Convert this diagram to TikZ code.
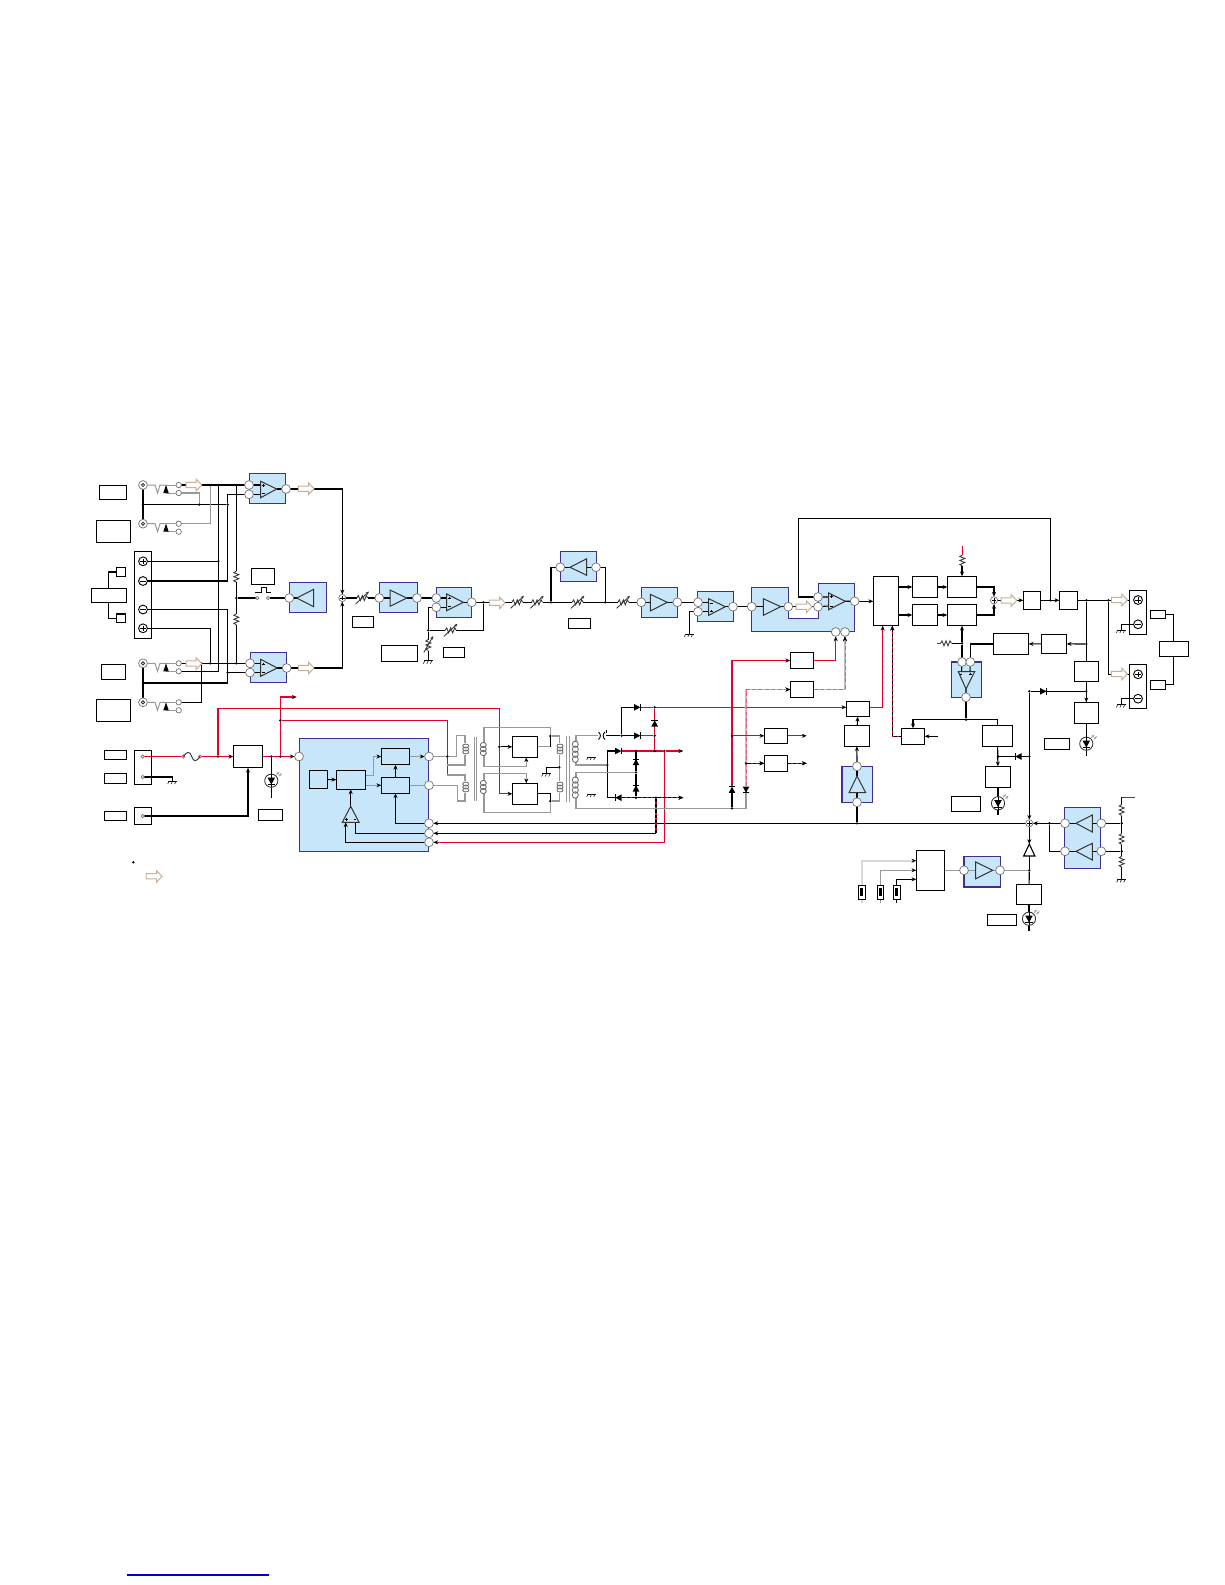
\documentclass[tikz,border=0pt]{standalone}
\usetikzlibrary{arrows.meta}
\pgfdeclarelayer{bgl}\pgfdeclarelayer{wirel}\pgfsetlayers{bgl,wirel,main}
\definecolor{bluef}{HTML}{C8E6FA}
\definecolor{bluee}{HTML}{3F2F90}
\definecolor{redw}{HTML}{E2002D}
\definecolor{grayw}{HTML}{999999}
\definecolor{lgray}{HTML}{D8D8D8}
\definecolor{pinke}{HTML}{D9C4C8}
\definecolor{tanw}{HTML}{C9AF97}
\definecolor{symb}{HTML}{333333}
\tikzset{
 boxn/.style={rectangle,draw=black,line width=.62pt,fill=white,inner sep=0,outer sep=0},
 openn/.style={rectangle,draw=black,line width=.62pt,inner sep=0,outer sep=0},
 bluen/.style={rectangle,draw=bluee,line width=.7pt,fill=bluef,inner sep=0,outer sep=0},
 pinn/.style={circle,draw=black!55,line width=.35pt,fill=white,inner sep=0,outer sep=0,minimum size=4.4pt},
 midn/.style={pinn,minimum size=2.7pt},
 smln/.style={pinn,minimum size=1.7pt},
 dotn/.style={circle,fill=black,inner sep=0,outer sep=0,minimum size=1.3pt},
 w/.style={draw=black,line width=.56pt},
 wr/.style={draw=redw,line width=.56pt},
 wg/.style={draw=grayw,line width=.56pt},
 wl/.style={draw=lgray,line width=.9pt},
 rd/.style={draw=redw!65!white,line width=.5pt,dash pattern=on 2pt off 1.2pt,preaction={draw=pinke!70!grayw,solid,line width=.85pt}},
 bd/.style={draw=black,line width=.56pt,dash pattern=on 1.6pt off 1pt,preaction={draw=redw,solid,line width=.56pt}},
 ar/.style={-{Stealth[length=2.4pt,width=2pt,color=black]}},
 ra/.style={{Stealth[length=2.4pt,width=2pt,color=black]}-},
 sym/.style={draw=symb,line width=.42pt},
 amp/.style={draw=symb,line width=.5pt},
}
\newcommand\mybox[5]{\pgfmathsetmacro\zzw{(#4-#2)*0.5}\pgfmathsetmacro\zzh{(#5-#3)*0.5}\node[boxn,minimum width=\zzw pt,minimum height=\zzh pt] (#1) at ({(#2+#4)/2},{(#3+#5)/2}) {};}
\newcommand\myopen[5]{\pgfmathsetmacro\zzw{(#4-#2)*0.5}\pgfmathsetmacro\zzh{(#5-#3)*0.5}\node[openn,minimum width=\zzw pt,minimum height=\zzh pt] (#1) at ({(#2+#4)/2},{(#3+#5)/2}) {};}
\newcommand\myblue[5]{\pgfmathsetmacro\zzw{(#4-#2)*0.5}\pgfmathsetmacro\zzh{(#5-#3)*0.5}\begin{pgfonlayer}{bgl}\node[bluen,minimum width=\zzw pt,minimum height=\zzh pt] (#1) at ({(#2+#4)/2},{(#3+#5)/2}) {};\end{pgfonlayer}}
\newcommand\mypin[3]{\node[pinn] (#1) at (#2,#3) {};}
\newcommand\mymid[3]{\node[midn] (#1) at (#2,#3) {};}
\newcommand\mysml[3]{\node[smln] (#1) at (#2,#3) {};}
\newcommand\mydot[3]{\node[dotn] (#1) at (#2,#3) {};}
\newcommand\zjack[3]{\node[pinn] (#1) at (#2,#3) {};\draw[sym] (#2,#3) circle[radius=1.6];}
\newcommand\zterm[3]{\node[pinn,draw=black,line width=.45pt] (#1) at (#2,#3) {};\draw[black,line width=.45pt] (#2-2.8,#3)--(#2+2.8,#3) (#2,#3-2.8)--(#2,#3+2.8);}
\newcommand\ztermm[3]{\node[pinn,draw=black,line width=.45pt] (#1) at (#2,#3) {};\draw[black,line width=.45pt] (#2-2.8,#3)--(#2+2.8,#3);}
\newcommand\zsum[3]{\node[pinn,minimum size=3.6pt] (#1) at (#2,#3) {};\draw[black,line width=.4pt] (#2-2.2,#3)--(#2+2.2,#3) (#2,#3-2.2)--(#2,#3+2.2);}
\newcommand\zamp[6]{\draw[amp] (#1,#2)--(#3,#4)--(#5,#6)--cycle;}
\newcommand\zpl[2]{\draw[black,line width=.35pt] (#1-1.4,#2)--(#1+1.4,#2) (#1,#2-1.4)--(#1,#2+1.4);}
\newcommand\zmn[2]{\draw[black,line width=.35pt] (#1-1.4,#2)--(#1+1.4,#2);}
\newcommand\zres[2]{\begin{scope}[shift={(#1,#2)}]\fill[white] (-5.5,-2)rectangle(5.5,2);\draw[sym] (-5.5,0)--(-4,-2.5)--(-2,2.5)--(0,-2.5)--(2,2.5)--(4,-2.5)--(5.5,0);\end{scope}}
\newcommand\zvres[2]{\begin{scope}[shift={(#1,#2)}]\fill[white] (-2,-5.5)rectangle(2,5.5);\draw[sym] (0,-5.5)--(-2.5,-4)--(2.5,-2)--(-2.5,0)--(2.5,2)--(-2.5,4)--(0,5.5);\end{scope}}
\newcommand\zsres[2]{\zres{#1}{#2}\begin{scope}[shift={(#1,#2)}]\draw[sym,-{Stealth[length=1.8pt,width=1.5pt]}] (-6.7,6)--(6.7,-6.5);\end{scope}}
\newcommand\zvsres[2]{\zvres{#1}{#2}\begin{scope}[shift={(#1,#2)}]\draw[sym,-{Stealth[length=1.8pt,width=1.5pt]}] (-4.5,7.5)--(5,-9);\end{scope}}
\newcommand\zgnd[2]{\begin{scope}[shift={(#1,#2)}]\draw[black,line width=.5pt] (-4.5,0)--(4.5,0);\draw[symb,line width=.35pt] (-3.5,0)--(-5,3) (0,0)--(-1.5,3) (3.5,0)--(2,3);\end{scope}}
\newcommand\zled[2]{\begin{scope}[shift={(#1,#2)}]\draw[sym,fill=white] (0,0) circle[radius=6.6];\draw[black,line width=.5pt] (0,-6.6)--(0,6.6) (-3.8,3.8)--(3.8,3.8);\fill[black] (-3.8,-3.2)--(3.8,-3.2)--(0,3.8)--cycle;\draw[grayw,line width=.35pt,-{Stealth[length=1.5pt,width=1.2pt]}] (5,-6)--(8,-9);\draw[grayw,line width=.35pt,-{Stealth[length=1.5pt,width=1.2pt]}] (7.5,-4.5)--(10.5,-7.5);\end{scope}}
\newcommand\zdiode[3]{\begin{scope}[shift={(#1,#2)},rotate=#3]\fill[black] (-3.2,-3.3)--(3,0)--(-3.2,3.3)--cycle;\draw[black,line width=.5pt] (3,-3.3)--(3,3.3);\end{scope}}
\newcommand\zcoil[4]{\begin{scope}[shift={(#1,#2)}]\foreach \zk in {1,...,#3}{\draw[draw=grayw!70!black,line width=.42pt] (0,{(\zk-(#3+1)/2)*#4}) ellipse[x radius=3,y radius={#4*.65}];}\end{scope}}
\newcommand\zharrow[3]{\begin{scope}[shift={(#1,#3)}]\draw[tanw,line width=.5pt,fill=white] (0,-2.6)--({#2-#1-5.5},-2.6)--({#2-#1-5.5},-5.8)--({#2-#1},0)--({#2-#1-5.5},5.8)--({#2-#1-5.5},2.6)--(0,2.6)--cycle;\end{scope}}
\newcommand\zfuse[1]{\begin{scope}[shift={(#1,892)}]\draw[black,line width=.4pt,fill=white] (-3.2,-7)rectangle(3.2,7);\fill[black] (-1.5,-4)rectangle(1.5,4);\end{scope}}
\begin{document}
\begin{tikzpicture}[x=0.5pt,y=-0.5pt]
\begin{pgfonlayer}{bgl}
\path[use as bounding box,fill=white] (0,0) rectangle (1225,1585);
\draw[bluee,line width=.7pt,fill=bluef] (751.3,587.3)--(788.3,587.3)--(788.3,618.3)--(818.3,618.3)--(818.3,583.3)--(854.3,583.3)--(854.3,631.3)--(751.3,631.3)--cycle;
\end{pgfonlayer}
% blue blocks
\myblue{bA}{249.3}{473.7}{285.7}{503.7}
\myblue{bB}{250.3}{652.7}{286.7}{682.7}
\myblue{bC}{289.3}{582.7}{326.3}{612.7}
\myblue{bD}{379.3}{582.3}{417.3}{612.3}
\myblue{bE}{436.3}{587.7}{471.7}{617.7}
\myblue{bF}{560.3}{551.3}{596.3}{581.3}
\myblue{bG}{641.7}{587.3}{677.7}{617.3}
\myblue{bH}{697.7}{591.3}{733.3}{621.7}
\myblue{bI}{951.3}{662}{981.7}{697.7}
\myblue{bJ}{842}{766.7}{872.3}{802.7}
\myblue{bK}{299.3}{738.3}{428.7}{851.7}
\myblue{bL}{964}{856.7}{1000.3}{887}
\myblue{bM}{1064.7}{807.7}{1100.7}{868.7}
% label boxes
\mybox{la}{99.3}{485.3}{126.7}{499.3}
\mybox{lb}{96.3}{520.3}{130.7}{542.3}
\mybox{lc}{101.3}{664.3}{125.7}{679.7}
\mybox{ld}{96.3}{699.3}{130.7}{721.7}
\mybox{spk}{91.3}{588.3}{126.7}{602.7}
\mybox{spa}{116.3}{567.3}{125.7}{576.7}
\mybox{spb}{116.3}{614}{125.7}{622.7}
\myopen{tba}{134.3}{551.3}{151.7}{638.3}
\mybox{swb}{251.3}{568.3}{274.7}{584.7}
\mybox{lg}{352.3}{616.3}{373.7}{627.7}
\mybox{lh}{381.3}{645.3}{417.3}{661.7}
\mybox{li}{443.3}{647.3}{464.7}{657.7}
\mybox{lj}{568.3}{618.3}{590.7}{628.7}
\mybox{bigb}{873.3}{576.3}{898.3}{625.7}
\mybox{fa}{912.3}{576.3}{937.7}{597.7}
\mybox{fb}{912.3}{604.3}{937.7}{625.7}
\mybox{ga}{947.3}{576.3}{976.7}{597.7}
\mybox{gb}{947.3}{604.3}{976.7}{625.7}
\mybox{ka}{1023.3}{591.3}{1040.7}{609.3}
\mybox{kb}{1059.3}{591.3}{1077.7}{609.3}
\mybox{hb}{993.3}{633.3}{1028.7}{654.7}
\mybox{ib}{1041.3}{634.3}{1066.7}{653.3}
\mybox{na}{1074.3}{661.3}{1098.3}{681.7}
\mybox{nb}{1074.3}{702.3}{1098.3}{723.3}
\mybox{lk}{1044.3}{738.3}{1069.7}{749.7}
\myopen{tbb}{1129.3}{590.3}{1146.7}{634.7}
\myopen{tbc}{1129.3}{664.3}{1146.7}{708.3}
\mybox{sa}{1150.7}{610.7}{1165.3}{618.3}
\mybox{sb}{1150.7}{680.3}{1165.3}{689.3}
\mybox{sc}{1159.3}{641.3}{1188.3}{656.3}
\mybox{ca}{790.3}{652.3}{813.7}{668.7}
\mybox{cb}{790.3}{681.3}{813.7}{697.7}
\mybox{da}{764.3}{728.3}{787.7}{743.3}
\mybox{db}{764.3}{755.3}{787.7}{771.3}
\mybox{tt}{846.3}{701.3}{869.7}{716.7}
\mybox{ma}{844.3}{725.3}{869.3}{746.3}
\mybox{mb}{901.3}{728.3}{924.7}{744.3}
\mybox{mc}{982.3}{725.3}{1012.7}{746.3}
\mybox{md}{985.3}{766.3}{1010.7}{787.7}
\mybox{ll}{951.3}{796.3}{980.7}{811.7}
\mybox{pla}{104.3}{750.3}{126.7}{759.7}
\mybox{plb}{104.3}{773.3}{126.7}{783.7}
\mybox{plc}{104.3}{811.3}{126.7}{820.7}
\myopen{pba}{134.3}{750.3}{151.7}{784.7}
\myopen{pbb}{134.3}{807.3}{151.7}{824.7}
\mybox{pw}{233.3}{745.3}{262.7}{767.7}
\mybox{lm}{258.3}{809.3}{282.7}{820.7}
\myopen{ia}{309.3}{770.3}{327.7}{788.7}
\myopen{ic}{336.3}{770.3}{365.7}{789.3}
\myopen{id}{381.3}{748.3}{409.7}{764.7}
\myopen{ie}{381.3}{777.3}{409.7}{793.3}
\mybox{ka1}{512.3}{736.3}{537.7}{757.3}
\mybox{ka2}{512.3}{783.3}{537.7}{804.3}
\mybox{qb}{916.3}{850.3}{944.7}{890.3}
\mybox{ra}{1016.3}{884.3}{1041.7}{904.7}
\mybox{ln}{987.3}{914.3}{1016.7}{925.3}
% jacks, terminals
\zjack{ja}{143}{485}
\zjack{jb}{143}{523.7}
\zjack{jc}{143}{663.3}
\zjack{jd}{143}{702.3}
\zterm{tpa}{143}{561.3}
\ztermm{tma}{143}{581}
\ztermm{tmb}{143}{609.5}
\zterm{tpb}{143}{628.3}
\zterm{tpc}{1138}{600}
\ztermm{tmc}{1138}{624.3}
\zterm{tpd}{1138}{674.3}
\ztermm{tmd}{1138}{698.7}
\mymid{cau}{178.7}{485}
\mymid{cal}{178.7}{493}
\mymid{cbu}{178.7}{523.7}
\mymid{cbl}{178.7}{531.7}
\mymid{ccu}{178.7}{663.3}
\mymid{ccl}{178.7}{671.3}
\mymid{cdu}{178.7}{702.3}
\mymid{cdl}{178.7}{710.3}
% pins
\mypin{pa1}{249}{485}
\mypin{pa2}{249}{494.3}
\mypin{pao}{286}{489}
\mypin{pb1}{250}{663.3}
\mypin{pb2}{250}{672.5}
\mypin{pbo}{286.7}{668}
\mypin{pc}{289.3}{598}
\mysml{sw1}{257.3}{598}
\mysml{sw2}{268}{598}
\zsum{sma}{342.3}{598}
\mypin{pd1}{379.3}{598}
\mypin{pdo}{417}{598}
\mypin{pe1}{436.3}{598}
\mypin{pe2}{436.3}{607.3}
\mypin{peo}{471.7}{602.3}
\mypin{pf1}{560.3}{567.3}
\mypin{pfo}{596}{567.3}
\mypin{pg1}{641.3}{602.3}
\mypin{pgo}{677.3}{602.3}
\mypin{ph1}{698}{602.3}
\mypin{ph2}{698}{611.7}
\mypin{pho}{733}{606.7}
\mypin{pi1}{751.7}{606.7}
\mypin{pi2}{788.3}{606.7}
\mypin{pj1}{818}{597}
\mypin{pj2}{818}{606.7}
\mypin{pjo}{854.7}{601.3}
\mypin{pk1}{835.7}{632}
\mypin{pk2}{845}{632}
\zsum{smb}{994}{600.3}
\mypin{pq1}{962}{662}
\mypin{pq2}{970.3}{662}
\mypin{pqo}{966}{697.3}
\mypin{pj3}{857}{766.3}
\mypin{pj4}{857}{802.3}
\mysml{qa}{142.7}{756.5}
\mysml{qc}{142.7}{777}
\mysml{qd}{142.7}{816}
\mysml{fu1}{183.3}{756.5}
\mysml{fu2}{200}{756.5}
\mypin{kin}{299}{756.5}
\mypin{kh1}{429}{756.5}
\mypin{kh2}{429}{785.3}
\mypin{kl1}{429}{823.3}
\mypin{kl2}{429}{833.3}
\mypin{kl3}{429}{842.3}
\mypin{pl1}{964}{870.3}
\mypin{pl2}{1000}{870.3}
\zsum{smc}{1029.3}{823.3}
\mypin{pm1}{1065}{823.3}
\mypin{pm2}{1101.3}{823.3}
\mypin{pm3}{1065}{851.3}
\mypin{pm4}{1101.3}{851.3}
% dots
\mydot{d1}{143}{504.5}
\mydot{d2}{227.7}{504.5}
\mydot{d3}{143}{683}
\mydot{a1}{210.3}{485}
\mydot{a2}{218.3}{485}
\mydot{a3}{236.3}{485}
\mydot{a4}{199.3}{504.5}
\mydot{a5}{201.3}{663.3}
\mydot{a6}{210.3}{663.3}
\mydot{a7}{236.3}{663.3}
\mydot{a8}{218.3}{561.3}
\mydot{a9}{227.7}{672.5}
\mydot{am}{236.3}{598}
\mydot{e1}{428.3}{630.3}
\mydot{e2}{483.3}{602.3}
\mydot{e3}{551}{602.3}
\mydot{e4}{605.3}{602.3}
\mydot{g1}{962}{643.3}
\mydot{g2}{1086.3}{644}
\mydot{g3}{1050.3}{600.3}
\mydot{g4}{1086.3}{600.3}
\mydot{g5}{1108.3}{600.3}
\mydot{g6}{1086.3}{691.3}
\mydot{g7}{1029.3}{691.3}
\mydot{g8}{1029.3}{756.5}
\mydot{g9}{998}{756.5}
\mydot{g10}{966}{719.7}
\mydot{h1}{857}{823.3}
\mydot{h2}{1029.3}{870.3}
\mydot{h3}{1049.3}{823.3}
\mydot{h4}{1121.7}{823.3}
\mydot{h5}{1121.7}{851.3}
\mydot{r1}{218}{756.5}
\mydot{r2}{271.3}{756.5}
\mydot{r3}{280.3}{756.5}
\mydot{r4}{280.3}{720.3}
\mydot{r5}{447.3}{756.5}
\mydot{r6}{499.3}{746.8}
\mydot{t1}{550.3}{736}
\mydot{t2}{559.3}{767.3}
\mydot{t3}{550.3}{801}
\mydot{v1}{621.7}{735.7}
\mydot{v2}{654.7}{707.3}
\mydot{v3}{654.7}{735.7}
\mydot{v4}{654.7}{751}
\mydot{v5}{607.3}{765}
\mydot{v6}{636}{751}
\mydot{v7}{636}{797.7}
\mydot{v8}{636}{772.3}
\mydot{v9}{732}{808.3}
\mydot{w1}{664.3}{751}
\mydot{w2}{656}{797.7}
\mydot{x1}{732}{735.8}
\mydot{x2}{746}{763.3}
% free ends
\coordinate (fr1) at (962.3,546);
\coordinate (fr2) at (962.3,555);
\coordinate (fr3) at (962,566);
\coordinate (fr4) at (936.7,643.3);
\coordinate (fr5) at (940.5,643.3);
\coordinate (fr6) at (952,643.3);
\coordinate (fg1) at (172.7,781);
\coordinate (fg2) at (428.3,660.7);
\coordinate (fg3) at (689.3,634);
\coordinate (fg4) at (1121.3,630);
\coordinate (fg5) at (1121.3,704.5);
\coordinate (fg6) at (546.7,773.5);
\coordinate (fg7) at (591.7,757);
\coordinate (fg8) at (591.7,794);
\coordinate (fg9) at (1121.7,879.3);
\coordinate (bs1) at (882.7,625.7);
\coordinate (bs2) at (892.3,625.7);
\coordinate (oa) at (296.7,697);
\coordinate (ob) at (683.3,751);
\coordinate (oc) at (683.3,797.7);
\coordinate (od) at (806.7,735.8);
\coordinate (oe) at (806.7,763.3);
\coordinate (of) at (938.3,736.3);
\coordinate (ld1) at (271.3,797.7);
\coordinate (ld2) at (1086.3,756);
\coordinate (ld3) at (998,815);
\coordinate (ld4) at (1029,930.7);
\coordinate (tb) at (1029.3,856);
\coordinate (tt2) at (1029.3,844);
\coordinate (rt) at (1135,797.3);
\coordinate (dA) at (732,793);
\coordinate (dB) at (732,786);
\coordinate (dC) at (746,793);
\coordinate (dD) at (746,786);
\coordinate (in1) at (861.7,903.3);
\coordinate (in2) at (880.3,903.3);
\coordinate (in3) at (896.7,903.3);
% wires
\begin{pgfonlayer}{wirel}
\draw[w] (ja)--(jb);
\draw[w] (d1)--(d2);
\draw[w] (jc)--(jd);
\draw[wg] (cal)--(199.3,493)--(a4);
\draw[wg] (cbu)-|(a1);
\draw[w] (cau)--(pa1);
\draw[w] (a2)|-(ccl);
\draw[w] (tpa)--(a8);
\draw[w] (pa2)-|(d2);
\draw[w] (d2)|-(tma);
\draw[w] (tmb)-|(227.7,683)--(d3);
\draw[w] (pb2)--(a9);
\draw[w] (tpb)-|(a6);
\draw[w] (ccu)--(pb1);
\draw[w] (cdu)-|(a5);
\draw[w] (a3)--(am);
\draw[w] (am)--(a7);
\draw[w] (am)--(sw1);
\draw[w] (sw2)--(pc);
\draw[w] (pc)--(296.7,598);
\draw[w] (pa1)--(260.7,485) (pa2)--(260.7,494.3) (276.7,489)--(pao);
\draw[w] (pb1)--(260.7,663.3) (pb2)--(260.7,672.5) (277.3,668)--(pbo);
\draw[w,ar] (pao)-|(sma);
\draw[w,ar] (pbo)-|(sma);
\draw[w] (sma)--(pd1);
\draw[w] (pd1)--(390,598) (406.7,598)--(pdo);
\draw[w] (pdo)--(pe1);
\draw[w] (pe1)--(446.7,598) (pe2)--(446.7,607.3) (463.3,602.3)--(peo);
\draw[w] (pe2)-|(e1);
\draw[w] (e2)|-(e1);
\draw[w] (e1)--(fg2);
\draw[w] (peo)--(pg1);
\draw[w] (e3)|-(pf1);
\draw[w] (e4)|-(pfo);
\draw[w] (pf1)--(570,567.3) (586.7,567.3)--(pfo);
\draw[w] (pg1)--(650.3,602.3) (667.3,602.3)--(pgo);
\draw[w] (pgo)--(ph1);
\draw[w] (ph2)-|(fg3);
\draw[w] (ph1)--(708.7,602.3) (ph2)--(708.7,611.7) (725.3,606.7)--(pho);
\draw[w] (pho)--(pi1);
\draw[w] (pi1)--(763.3,606.7) (780.7,606.7)--(pi2);
\draw[w] (pi2)--(pj2);
\draw[w] (pj1)--(828.7,597) (pj2)--(828.7,606) (845.3,601.3)--(pjo);
\draw[w] (pj1)--(798.3,597)--(798.3,518.7)--(1050.3,518.7)--(g3);
\draw[w,ar] (pjo)--(bigb.west|-pjo);
\draw[w,ar] (bigb.east|-fa)--(fa);
\draw[w,ar] (bigb.east|-fb)--(fb);
\draw[w,ar] (fa)--(ga);
\draw[w,ar] (fb)--(gb);
\draw[w,ar] (ga)-|(smb);
\draw[w,ar] (gb)-|(smb);
\draw[wr] (fr1)--(fr2);
\draw[w,ar] (fr3)--(ga);
\draw[w,ar] (g1)--(gb);
\draw[w] (g1)--(pq1);
\draw[wr] (fr4)--(fr5);
\draw[w] (fr6)--(g1);
\draw[w] (pq2)|-(hb);
\draw[w,ar] (ib)--(hb);
\draw[w,ar] (g2)--(ib);
\draw[w,ar] (smb)--(ka);
\draw[w,ar] (ka)--(kb);
\draw[w] (kb)--(tbb.west|-kb);
\draw[w] (g5)|-(tbc.west|-tpd);
\draw[w] (tmc)-|(fg4);
\draw[w] (tmd)-|(fg5);
\draw[w] (g4)--(na);
\draw[w,ar] (na)--(nb);
\draw[w] (nb)--(ld2);
\draw[w] (g6)--(g7);
\draw[w,ar] (g7)--(smc);
\draw[w] (g8)--(g9);
\draw[w] (sa)-|(sc);
\draw[w] (sb)-|(sc);
\draw[w] (pq1)--(961.5,672) (pq2)--(970,672) (966,689)--(pqo);
\draw[w] (pqo)--(g10);
\draw[w,ar] (g10)-|(mb.north);
\draw[w] (g10)-|(mc.north);
\draw[w,ar] (mc)--(md);
\draw[w] (md)--(ld3);
% power input
\draw[wr] (qa)--(fu1);
\draw[wr,ar] (fu2)--(pw);
\draw[wr,ar] (pw)--(kin);
\draw[wr,ar] (r1)--(218,708.5)--(499.3,708.5)--(499.3,793.8)--(ka2);
\draw[wr,ar] (r3)--(280.3,697)--(oa);
\draw[wr] (r4)--(447.3,720.3)--(447.3,775);
\draw[w] (r2)--(ld1);
\draw[w] (qc)-|(fg1);
\draw[w,ar] (qd)-|(pw);
\draw[w,ar] (ia)--(ic);
\draw[wg,ar] (ic.east|-ie)--(ie);
\draw[wg,ar] (ic.east|-0,775.3)--(373.7,775.3)--(373.7,756.5)--(id.west|-0,756.5);
\draw[wg,ar] (id)--(kh1);
\draw[wg] (ie)--(kh2);
\draw[w,ar] (ie)--(id);
\draw[w,ar] (350.7,806.3)--(350.7,789.3);
\draw[w,ra] (345.7,822.3)--(345.7,842.3)--(kl3);
\draw[w] (355.3,822.3)--(355.3,833.3)--(kl2);
\draw[w,ar] (kl1)-|(ie);
\draw[w,ra] (kl1)--(smc);
\draw[wr,ar] (w1)--(664.3,842.3)--(kl3);
\draw[w,ar] (656,833.3)--(kl2);
\draw[bd] (656,833.3)--(w2);
% transformer primary
\draw[wg] (kh1)--(456.7,756.5)--(456.7,735.7)--(465,735.7)--(465,743);
\draw[wg] (465,755)--(465,765)--(447.3,765);
\draw[wg] (447.3,775)--(465,775)--(465,781);
\draw[wg] (465,793)--(465,801)--(457.3,801)--(457.3,785.3)--(kh2);
\draw[wg,line width=.45pt] (474,736.7)--(474,800.7) (476,736.7)--(476,800.7);
\draw[wg] (484,743)--(484,727.3)--(550.3,727.3)--(t1);
\draw[wg,ar] (484,755)--(484,766.3)--(526.3,766.3)--(526.3,757.3);
\draw[w,ar] (r6)--(ka1);
\draw[wg] (ka1)--(550.3,746.8);
\draw[w] (t1)--(550.3,746.8);
\draw[wg] (t1)--(559.3,736)--(559.3,743);
\draw[wg] (559.3,755)--(559.3,781);
\draw[wg] (559.3,793)--(559.3,801)--(t3);
\draw[w] (ka2)--(550.3,793.8)--(t3);
\draw[wg] (t3)--(550.3,812.3)--(484,812.3)--(484,793);
\draw[wg,ar] (484,781)--(484,773.7)--(526.3,773.7)--(526.3,783.3);
\draw[w] (t2)-|(fg6);
\draw[wg,line width=.45pt] (566,735.7)--(566,802.3) (569.3,735.7)--(569.3,802.3);
% secondary / rectifier
\draw[wg] (576,741.5)--(576,735.7)--(598.3,735.7);
\draw[w] (606,735.7)--(v1);
\draw[w] (v1)|-(634,707.3);
\draw[w] (v1)--(634,735.7);
\draw[wr] (641,707.3)--(v2);
\draw[wr,ar] (v2)--(tt.west|-v2);
\draw[wr,ar] (tt.east|-v2)-|(bs1);
\draw[wr] (641,735.7)--(v3);
\draw[wr] (v2)--(v4);
\draw[wg] (576,761.7)--(576,765)--(v5);
\draw[w] (607.3,751)--(607.3,797.7);
\draw[w] (607.3,751)--(615,751);
\draw[w] (607.3,797.7)--(615,797.7);
\draw[wr] (622,751)--(v6);
\draw[wr] (v6)--(w1);
\draw[wr,ar] (w1)--(ob);
\draw[bd] (622,797.7)--(w2);
\draw[bd,ar] (w2)--(oc);
\draw[w] (v6)--(v8);
\draw[w] (v8)--(v7);
\draw[wg] (576,778)--(576,772.3)--(v8);
\draw[wg] (576,797.5)--(576,808.3)--(v9);
\draw[wg] (v9)--(746,808.3)--(dC);
\draw[w] (v9)--(dA);
\draw[wr,ar] (dB)--(732,660.5)--(ca);
\draw[rd,ar] (dD)--(746,689.5)--(cb);
\draw[wr,ar] (ca)-|(pk1);
\draw[rd,ar] (cb)-|(pk2);
\draw[wr,ar] (x1)--(da);
\draw[wr,ar] (da)--(od);
\draw[bd,ar] (x2)--(db);
\draw[bd,ar] (db)--(oe);
\draw[w,ar] (ma)--(tt);
\draw[w,ar] (pj3)--(ma);
\draw[w] (pj3)--(857,776) (857,792.7)--(pj4);
\draw[w] (pj4)--(h1);
\draw[bd,ra] (bs2)|-(mb.west);
\draw[w,ar] (of)--(mb);
% bottom right
\draw[w,ar] (smc)--(tt2);
\draw[w] (tb)--(h2);
\draw[w] (h2)--(ra);
\draw[wg] (pl2)--(h2);
\draw[wg] (qb)--(pl1);
\draw[wg] (pl1)--(975.7,870.3) (992.7,870.3)--(pl2);
\draw[w] (ra)--(ld4);
\draw[wl,ar] (in1)|-(qb.west|-0,860.7);
\draw[wg,ar] (in2)|-(qb.west|-0,870.3);
\draw[w,ar] (in3)|-(qb.west|-0,879.3);
\draw[w,ar] (pm1)--(smc);
\draw[w] (h3)|-(pm3);
\draw[w] (pm1)--(1076,823.3) (1092.3,823.3)--(pm2);
\draw[w] (pm3)--(1076,851.3) (1092.3,851.3)--(pm4);
\draw[w] (pm2)--(h4);
\draw[w] (pm4)--(h5);
\draw[w] (1121.7,797.3)--(fg9);
\draw[wr] (1121.7,797.3)--(rt);
\end{pgfonlayer}
% jack switch symbols
\foreach \zy/\zn/\zu/\zl in {485/ja/cau/cal,523.7/jb/cbu/cbl,663.3/jc/ccu/ccl,702.3/jd/cdu/cdl}{
 \draw[wg,line width=.5pt] (\zn)--(155,\zy)--(157.5,\zy+8)--(160,\zy)--(166,\zy);
 \draw[wg,line width=.5pt] (166,\zy)--(\zu) (166,\zy+8)--(\zl);
 \fill[black] (166,\zy)--(168.7,\zy+8)--(163.3,\zy+8)--cycle;
}
% fuse & button
\draw[symb,line width=.45pt] (183.3,756.5) .. controls (187,751) and (190,751) .. (191.7,756.5) .. controls (193.5,762) and (196.5,762) .. (200,756.5);
\draw[black,line width=.5pt] (255.3,592.7)--(261.7,592.7)--(261.7,587.7)--(266,587.7)--(266,592.7)--(270.7,592.7);
% amplifier triangles
\zamp{260.7}{481.3}{276.7}{489}{260.7}{497.7}
\zamp{260.7}{659.3}{277.3}{668}{260.7}{676.3}
\zamp{296.7}{598}{313.7}{589.3}{313.7}{606.7}
\zamp{390}{590}{406.7}{598}{390}{606.3}
\zamp{446.7}{594}{463.3}{602.3}{446.7}{610.7}
\zamp{570}{567.3}{586.7}{558.7}{586.7}{575.3}
\zamp{650.3}{594.3}{667.3}{602.3}{650.3}{611}
\zamp{708.7}{598.7}{725.3}{606.7}{708.7}{615.3}
\zamp{763.3}{598.7}{780.7}{606.7}{763.3}{615.3}
\zamp{828.7}{593}{845.3}{601.3}{828.7}{609.7}
\zamp{958.3}{671.7}{974.7}{671.7}{966}{689}
\zamp{857}{776}{849}{792.7}{865.7}{792.7}
\zamp{975.7}{862}{992.7}{870.3}{975.7}{878.7}
\zamp{1076}{823.3}{1092.3}{815}{1092.3}{832}
\zamp{1076}{851.3}{1092.3}{843.3}{1092.3}{860}
\zamp{350.7}{806.3}{342.3}{822.3}{359}{822.3}
\draw[w,fill=white,line width=.55pt] (1029.3,844)--(1023.7,856)--(1034.9,856)--cycle;
\zpl{263.3}{485.3}\zmn{263.3}{493.3}\zpl{263.3}{664}\zmn{263.3}{672.3}
\zpl{449.3}{598}\zmn{449.3}{606.7}\zmn{711.3}{603}\zpl{711.3}{611}
\zpl{831.7}{596.7}\zmn{831.7}{606}\zmn{961}{674}\zpl{970.7}{674}\zpl{346.7}{819.3}\zmn{355}{819.3}
% resistors
\zvres{236.3}{576.7}\zvres{236.3}{619.3}
\zsres{362.3}{598}\zsres{450.7}{630.3}\zvsres{428.3}{645}
\zsres{517.3}{602.3}\zsres{537}{602.3}\zsres{577.7}{602.3}\zsres{623.3}{602.3}
\zvres{962.3}{560.5}\zres{946}{643.3}
\zvres{1121.7}{810}\zvres{1121.7}{839}\zvres{1121.7}{861.7}
% grounds
\zgnd{172.7}{781}\zgnd{428.3}{660.7}\zgnd{689.3}{634}\zgnd{1121.3}{630}\zgnd{1121.3}{704.5}
\zgnd{546.7}{773.5}\zgnd{591.7}{757}\zgnd{591.7}{794}\zgnd{1121.7}{879.3}
% LEDs
\zled{271.3}{780.7}\zled{1086.3}{743.7}\zled{998}{803.3}\zled{1029}{918.7}
% diodes
\zdiode{637.3}{707.3}{0}\zdiode{637.3}{735.7}{0}\zdiode{654.7}{723.3}{90}
\zdiode{618.3}{751}{0}\zdiode{618.3}{797.7}{180}\zdiode{636}{762}{90}\zdiode{636}{788.3}{90}
\zdiode{732}{789.7}{90}\zdiode{746}{789.7}{-90}\zdiode{1043.3}{691.3}{0}\zdiode{1018.3}{756.5}{180}
% coils
\zcoil{465.7}{749}{3}{3}\zcoil{465.7}{787}{3}{3}
\zcoil{483.3}{749}{3}{4}\zcoil{483.3}{787}{3}{4}
\zcoil{560}{749}{3}{3}\zcoil{560}{787}{3}{3}
\zcoil{575.3}{751.7}{4}{5}\zcoil{575.3}{787.5}{4}{5}
\draw[black,line width=.45pt] (598.5,732) .. controls (601,734) and (601,737.5) .. (598.5,739.5) (605,732) .. controls (602.5,734) and (602.5,737.5) .. (605,739.5);
\draw[black,line width=.5pt] (606,733)--(606,730);
% fuses at bottom
\zfuse{861.7}\zfuse{880.3}\zfuse{896.7}
% hollow arrows
\zharrow{186}{201.7}{485}\zharrow{298.3}{314}{488.7}\zharrow{186}{201.7}{663.5}\zharrow{298.3}{314}{668}
\zharrow{489.3}{505}{602.8}\zharrow{796}{812}{606.8}\zharrow{1001}{1016.7}{600.5}\zharrow{1111.3}{1127.3}{600}\zharrow{1111.3}{1127.3}{674}
\zharrow{146}{162}{876.3}
% legend and spk links
\mydot{leg}{133.3}{862.3}
\draw[w] (spk.north-|108.7,0)|-(spa);
\draw[w] (spk.south-|108.7,0)|-(spb);
\draw[draw={rgb,255:red,0;green,0;blue,204},line width=.7pt] (127,1575)--(269,1575);
\end{tikzpicture}
\end{document}
